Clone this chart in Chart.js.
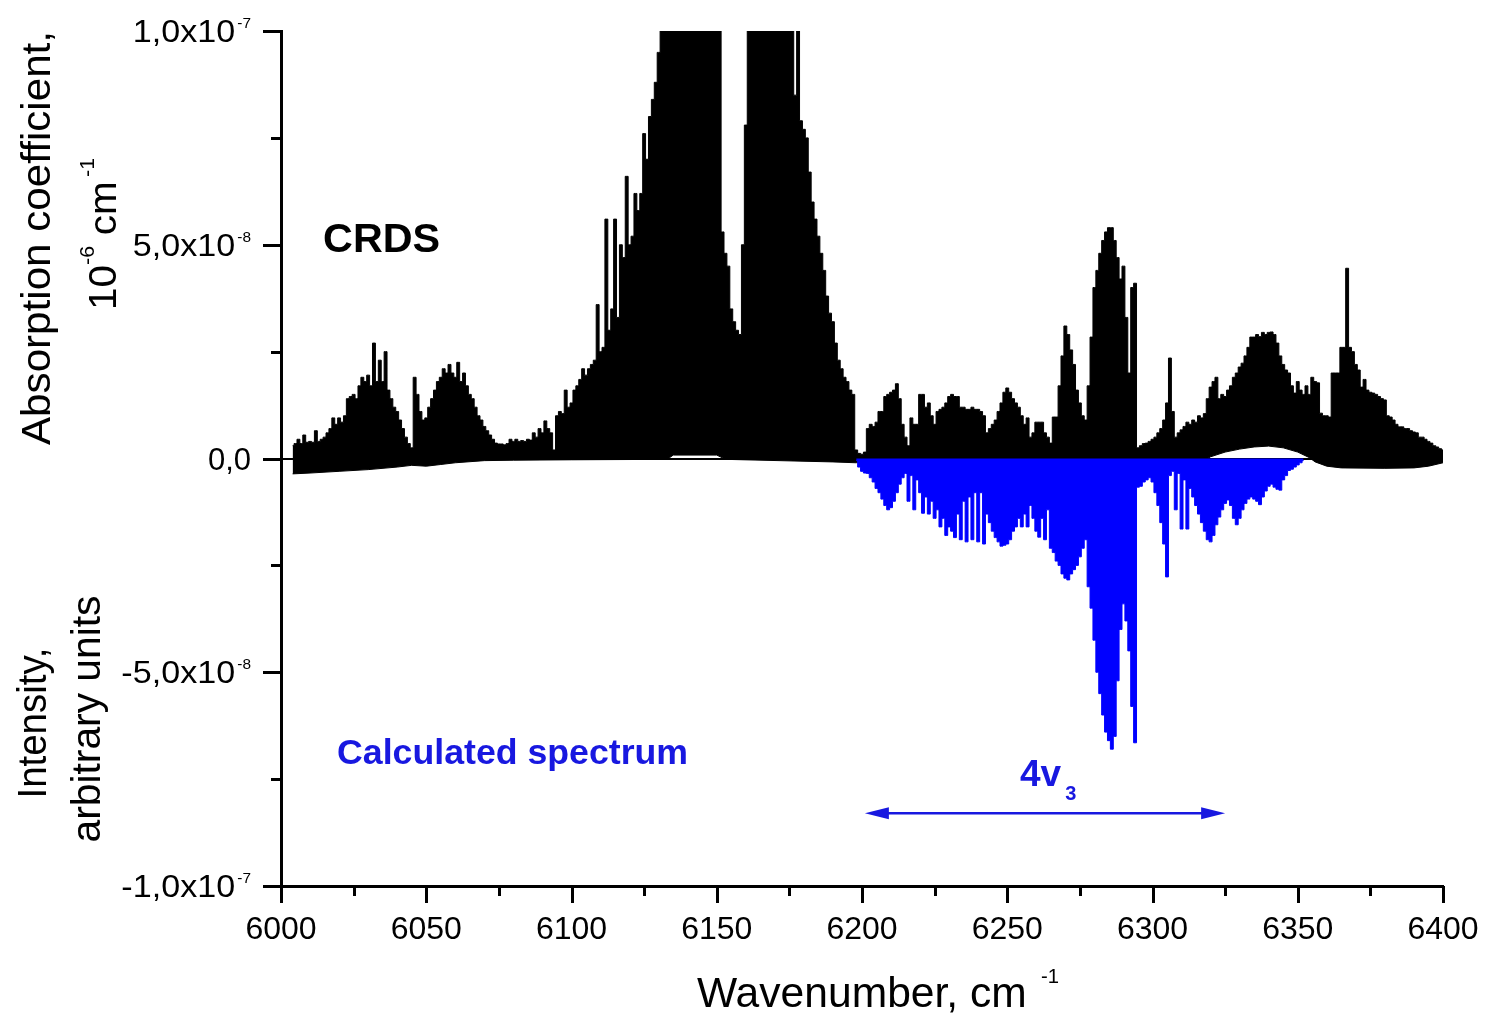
<!DOCTYPE html>
<html>
<head>
<meta charset="utf-8">
<script src="https://cdn.jsdelivr.net/npm/chart.js@4.4.1/dist/chart.umd.min.js"></script>
<style>
  html, body { margin: 0; padding: 0; background: #fff; }
  #wrap { width: 1485px; height: 1017px; }
</style>
</head>
<body>
<div id="wrap"><canvas id="spectrum"></canvas></div>
<script>
// all intensities in units of 1e-9 (so 100 = 1,0x10^-7)

// CRDS spectrum, upper envelope, one value per cm-1 from 6004 cm-1
const crdsStart = 6004;
const crdsTop = [
  3.0, 3.5, 4.5, 3.5, 5.5, 3.8,                             // 6004-6009
  4.0, 3.8, 6.5, 4.0, 4.5, 5.0, 6.0, 7.0, 9.5, 8.0,         // 6010
  9.5, 8.5, 10, 14, 14.5, 15, 14, 17, 19, 18,               // 6020
  19.5, 17, 27, 18, 23, 18, 25, 16, 14, 12,                 // 6030
  11, 9, 7, 5, 3.5, 2.5, 19, 15, 11, 9,                     // 6040
  9.5, 12, 14, 16, 18, 19, 21, 20, 22, 20,                  // 6050
  19, 22.5, 18, 20, 17, 15, 14, 12, 10, 9,                  // 6060
  7.5, 6.5, 5.5, 4.5, 3.6, 3.4, 3.4, 3.2, 3.5, 4.5,         // 6070
  4.0, 4.5, 4.0, 4.2, 4.0, 4.5, 4.3, 6.0, 5.0, 7.0,         // 6080
  6.0, 8.8, 7.0, 6.0, 2.0, 10, 11, 10.5, 16, 12,            // 6090
  13, 16, 17, 18.5, 21, 19.5, 21, 22, 23, 36,               // 6100
  25, 26, 56, 30, 35, 56, 33, 50, 47, 66,                   // 6110
  50, 52, 62, 58, 62, 76, 70, 80, 84, 88,                   // 6120
  95, 100, 100, 100, 100, 100, 100, 100, 100, 100,          // 6130
  100, 100, 100, 100, 100, 100, 100, 100, 100, 100,         // 6140
  100, 100, 53, 48, 45, 35, 32, 30, 29, 50,                 // 6150
  78, 100, 100, 100, 100, 100, 100, 100, 100, 100,          // 6160
  100, 100, 100, 100, 100, 100, 100, 85, 100, 79,           // 6170
  77, 75, 67, 60, 56, 52, 48, 44, 38, 34,                   // 6180
  32, 27, 23, 21, 19, 18, 16, 15, 2, 1.2,                   // 6190
  1.0, 1.5, 7, 8, 7.5, 8.5, 11, 11, 14.5, 15,               // 6200
  15.5, 16, 17.5, 14, 8, 5, 3, 9.5, 8, 8,                   // 6210
  15, 15, 12, 13, 10, 8, 11, 11.5, 12, 13,                  // 6220
  14.5, 15, 14.5, 14.5, 12, 12, 11.5, 11.5, 12, 11.5,       // 6230
  11.5, 11, 10, 6, 7, 8, 9, 11, 13, 15.5,                   // 6240
  16.5, 15.5, 14, 13, 12, 10, 8, 9.5, 5, 6,                 // 6250
  8.5, 8.5, 8.5, 6, 5, 3.6, 9.7, 9.7, 17, 24,               // 6260
  31, 29, 25.4, 22, 16, 13, 10, 9, 17, 28.4,                // 6270
  40, 44, 48, 51, 53, 54, 54, 51, 47, 42,                   // 6280
  45, 33, 20, 40, 41, 2.5, 3, 3.5, 3.6, 4,                  // 6290
  4.5, 5, 6, 7, 9, 13, 23.5, 11, 5, 6,                      // 6300
  6.7, 7.5, 8.5, 8, 9, 8.5, 10, 9.5, 10.5, 14,              // 6310
  16.7, 18, 19, 14, 15, 14.5, 16, 17, 19, 20,               // 6320
  21.4, 22.3, 24, 26, 28.4, 28.4, 29, 28.5, 29.5, 29,       // 6330
  29.5, 29.6, 29, 27, 24, 22, 20.7, 20, 17, 15.3,           // 6340
  18, 16, 15, 17, 15, 19, 18, 17.7, 10.6, 10,               // 6350
  10, 9.7, 20, 20, 20, 26, 26, 44.5, 26, 25,                // 6360
  22, 20.7, 16.7, 18.5, 16, 15.5, 15.3, 15, 14.5, 14,       // 6370
  13.7, 10, 9.7, 9, 8, 7.4, 7.4, 7, 7, 6.5,                 // 6380
  6.2, 6, 5, 5, 4.5, 4, 3.6, 3, 2.7, 2.3,                   // 6390
  2                                                         // 6400
];

// CRDS baseline (lower edge of the recorded trace)
const crdsBaseWn = [6004, 6010, 6020, 6030, 6040, 6045, 6050, 6055, 6060, 6070,
                    6080, 6100, 6133, 6135, 6150, 6153, 6190, 6198, 6201, 6318,
                    6320, 6325, 6330, 6335, 6340, 6345, 6350, 6354, 6356, 6360,
                    6365, 6380, 6390, 6395, 6400];
const crdsBase = [-3.6, -3.4, -3.0, -2.6, -2.0, -1.6, -1.8, -1.4, -1.0, -0.5,
                  -0.4, -0.3, -0.2, 0.8, 0.8, -0.2, -0.8, -1.0, -0.5, -0.4,
                  0.4, 1.5, 2.2, 2.7, 2.9, 2.5, 1.5, 0.2, -0.8, -1.8,
                  -2.2, -2.3, -2.2, -1.8, -1.0];

// calculated 4v3 band, plotted downwards, one value per cm-1 from 6198 cm-1
const calcStart = 6198;
const calcValues = [
  -0.5, -2,                                                 // 6198-6199
  -3, -3.4, -3.5, -4.5, -5.5, -7, -8, -9.5, -11, -12,       // 6200
  -11.5, -10, -8, -6, -4.5, -3.5, -10, -4, -12, -5,         // 6210
  -8, -12.8, -9, -13, -10, -14, -12, -16, -14, -18,         // 6220
  -16, -17, -18.5, -13, -19, -10, -19.5, -9, -19, -8,       // 6230
  -19.5, -8, -20, -13, -15, -17, -18.5, -19.5, -20.5, -20.3, // 6240
  -20, -19, -17, -16, -14, -16, -13, -16, -11, -14,         // 6250
  -17, -18.4, -14, -19, -12, -21, -22, -24, -25, -27,       // 6260
  -28, -28.4, -27, -26, -25, -23, -21, -19, -30, -35,       // 6270
  -42.5, -50, -55, -60, -64, -66, -68, -65, -52, -40,       // 6280
  -34, -38, -45, -58, -66.5, -6.7, -6.5, -5.5, -5, -4.5,    // 6290
  -5.5, -8, -11, -15, -20, -27.7, -4, -3, -12, -3.5,        // 6300
  -16.5, -5, -16.5, -7, -9, -11, -13, -15, -17, -19,        // 6310
  -19.5, -18, -15.5, -13.7, -12, -10.5, -9.7, -11, -14, -15.5, // 6320
  -14, -12, -10.5, -9.5, -9, -9.5, -10, -10.8, -9, -7.6,    // 6330
  -6.5, -6, -6.7, -7.2, -7.4, -5, -4, -2.8, -2.5, -2,       // 6340
  -1.5, -1, -0.5                                            // 6350
];

// axes
const xMin = 6000, xMax = 6400, xMajor = 50, xMinor = 25;
const yMin = -100, yMax = 100, yMinor = 25;
const yTickValues = [100, 50, 0, -50, -100];
const yTickText = ['1,0x10', '5,0x10', '0,0', '-5,0x10', '-1,0x10'];
const yTickExp = ['-7', '-8', '', '-8', '-7'];

// 4v3 band extent marked with the arrow
const bandFrom = 6201, bandTo = 6325;

const BLUE = '#0000ff';
const TEXT_BLUE = '#1818e0';
const FAMILY = '"Liberation Sans", Arial, sans-serif';

const crdsPoints = crdsTop.map((v, i) => ({ x: crdsStart + i, y: v }));
const basePoints = crdsBaseWn.map((w, i) => ({ x: w, y: crdsBase[i] }));
const calcPoints = calcValues.map((v, i) => ({ x: calcStart + i, y: v }));

function fontOf(p) {
  return (p.bold ? 'bold ' : '') + p.size + 'px ' + FAMILY;
}

// draws a run of text pieces (normal / super / subscript), optionally rotated and stretched
function drawRich(ctx, parts, x, y, opt) {
  ctx.save();
  ctx.translate(x, y);
  if (opt.rotate) ctx.rotate(opt.rotate);
  let total = 0;
  const widths = parts.map(p => {
    ctx.font = fontOf(p);
    const w = ctx.measureText(p.t).width + (p.gap || 0);
    total += w;
    return w;
  });
  const sx = opt.length ? opt.length / total : (opt.sx || 1);
  ctx.scale(sx, 1);
  let cx = opt.align === 'center' ? -total / 2 : opt.align === 'right' ? -total : 0;
  ctx.textAlign = 'left';
  ctx.textBaseline = 'alphabetic';
  ctx.fillStyle = opt.color || '#000';
  parts.forEach((p, i) => {
    ctx.font = fontOf(p);
    ctx.fillText(p.t, cx + (p.pre || 0), -(p.raise || 0));
    cx += widths[i];
  });
  ctx.restore();
}

const axisDecor = {
  id: 'axisDecor',
  afterDraw(chart) {
    const { ctx, scales: { x, y }, chartArea } = chart;
    ctx.save();
    ctx.strokeStyle = '#000';
    ctx.lineWidth = 3;

    // tick marks, outside the frame
    for (let v = xMin; v <= xMax; v += xMinor) {
      const px = Math.round(x.getPixelForValue(v)) + 0.5;
      const len = v % xMajor === 0 ? 17 : 10;
      ctx.beginPath();
      ctx.moveTo(px, chartArea.bottom);
      ctx.lineTo(px, chartArea.bottom + len);
      ctx.stroke();
    }
    for (let v = yMin; v <= yMax; v += yMinor) {
      const py = Math.round(y.getPixelForValue(v)) + 0.5;
      const len = v % 50 === 0 ? 18 : 10;
      ctx.beginPath();
      ctx.moveTo(chartArea.left, py);
      ctx.lineTo(chartArea.left - len, py);
      ctx.stroke();
    }

    // y tick labels with exponents
    yTickValues.forEach((v, i) => {
      const py = y.getPixelForValue(v);
      const parts = [{ t: yTickText[i], size: 31 }];
      if (yTickExp[i]) parts.push({ t: yTickExp[i], size: 14, raise: 14, gap: 2, pre: 2 });
      drawRich(ctx, parts, chartArea.left - 30, py + 11,
        { align: 'right', sx: yTickExp[i] ? 1.1 : 1 });
    });

    // axis titles
    const rot = -Math.PI / 2;
    drawRich(ctx, [{ t: 'Absorption coefficient,', size: 40 }], 50, 238,
      { rotate: rot, align: 'center', length: 414 });
    drawRich(ctx, [
      { t: '10', size: 38 },
      { t: '-6', size: 20, raise: 22, gap: 10 },
      { t: 'cm', size: 38, gap: 4 },
      { t: '-1', size: 20, raise: 22 }
    ], 116, 234, { rotate: rot, align: 'center', length: 152 });
    drawRich(ctx, [{ t: 'Intensity,', size: 40 }], 46, 723,
      { rotate: rot, align: 'center', length: 151 });
    drawRich(ctx, [{ t: 'arbitrary units', size: 40 }], 100, 719,
      { rotate: rot, align: 'center', length: 247 });
    drawRich(ctx, [
      { t: 'Wavenumber, cm', size: 42, gap: 14 },
      { t: '-1', size: 20, raise: 24 }
    ], 697, 1007, { align: 'left', length: 362 });

    // in-plot labels
    drawRich(ctx, [{ t: 'CRDS', size: 40, bold: true }],
      x.getPixelForValue(6014.5), y.getPixelForValue(48.3), { align: 'left', length: 117 });
    drawRich(ctx, [{ t: 'Calculated spectrum', size: 35, bold: true }],
      x.getPixelForValue(6019.3), y.getPixelForValue(-71.5),
      { align: 'left', length: 351, color: TEXT_BLUE });
    drawRich(ctx, [
      { t: '4v', size: 37, bold: true, gap: 4 },
      { t: '3', size: 20, bold: true, raise: -14 }
    ], x.getPixelForValue(6254.4), y.getPixelForValue(-76.6),
      { align: 'left', color: TEXT_BLUE });

    // double arrow across the band
    const ax1 = x.getPixelForValue(bandFrom), ax2 = x.getPixelForValue(bandTo);
    const ay = y.getPixelForValue(-83);
    ctx.strokeStyle = TEXT_BLUE;
    ctx.fillStyle = TEXT_BLUE;
    ctx.lineWidth = 2.5;
    ctx.beginPath();
    ctx.moveTo(ax1 + 10, ay);
    ctx.lineTo(ax2 - 10, ay);
    ctx.stroke();
    [[ax1, 1], [ax2, -1]].forEach(([tip, dir]) => {
      ctx.beginPath();
      ctx.moveTo(tip, ay);
      ctx.lineTo(tip + dir * 24, ay - 6);
      ctx.lineTo(tip + dir * 24, ay + 6);
      ctx.closePath();
      ctx.fill();
    });
    ctx.restore();
  }
};

new Chart(document.getElementById('spectrum'), {
  type: 'line',
  data: {
    datasets: [
      {
        label: 'Calculated spectrum',
        data: calcPoints,
        order: 0,
        borderColor: BLUE,
        borderWidth: 1,
        backgroundColor: BLUE,
        fill: 'origin',
        stepped: 'middle',
        pointRadius: 0
      },
      {
        label: 'CRDS',
        data: crdsPoints,
        order: 1,
        borderColor: '#000',
        borderWidth: 1,
        backgroundColor: '#000',
        fill: '+1',
        stepped: 'middle',
        pointRadius: 0
      },
      {
        label: 'CRDS baseline',
        data: basePoints,
        order: 2,
        borderColor: '#000',
        borderWidth: 1,
        fill: false,
        pointRadius: 0
      }
    ]
  },
  options: {
    responsive: true,
    maintainAspectRatio: false,
    animation: false,
    devicePixelRatio: 1,
    layout: { padding: { top: 31, right: 42, left: 0, bottom: 0 } },
    plugins: { legend: { display: false }, tooltip: { enabled: false } },
    scales: {
      x: {
        type: 'linear',
        min: xMin,
        max: xMax,
        afterFit: s => { s.height = 131; s.paddingRight = 0; s.paddingLeft = 0; },
        grid: { display: false, drawTicks: false },
        border: { display: true, color: '#000', width: 3 },
        ticks: {
          stepSize: xMajor,
          color: '#000',
          padding: 25,
          maxRotation: 0,
          autoSkip: false,
          font: { family: FAMILY, size: 32 },
          callback: v => String(v)
        }
      },
      y: {
        min: yMin,
        max: yMax,
        afterFit: s => { s.width = 281; },
        grid: {
          drawTicks: false,
          lineWidth: 2,
          color: c => (c.tick && c.tick.value === 0 ? '#000' : 'rgba(0,0,0,0)')
        },
        border: { display: true, color: '#000', width: 3 },
        ticks: { display: false, stepSize: yMinor }
      }
    }
  },
  plugins: [axisDecor]
});
</script>
</body>
</html>
